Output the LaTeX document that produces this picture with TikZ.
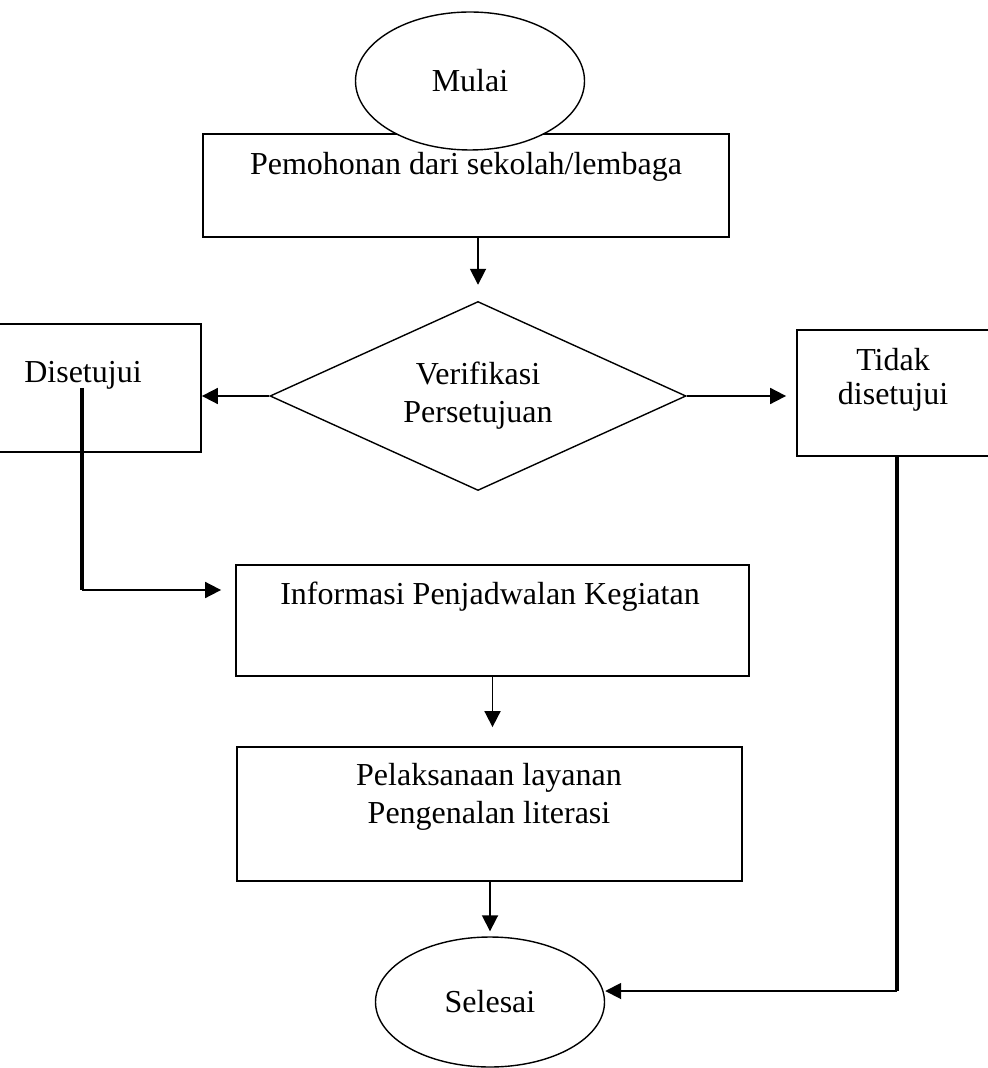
\documentclass[tikz,border=0pt]{standalone}
\usepackage{fontspec}
\setmainfont{Liberation Serif}
\usetikzlibrary{shapes.geometric,arrows.meta}

\begin{document}
\begin{tikzpicture}[x=0.5pt,y=-0.5pt,font=\fontsize{16}{19}\selectfont,
  kotak/.style={rectangle, draw=black, line width=0.9pt, inner sep=0pt},
  bulat/.style={ellipse, draw=black, line width=0.7pt, fill=white, inner sep=0pt},
  teks/.style={align=center, inner sep=0pt},
  panah/.style={-{Triangle[length=8pt,width=8pt]}, line width=0.9pt},
  garis/.style={line width=2pt}]
\useasboundingbox (0,0) rectangle (987,1068);

\node[kotak, minimum width=263pt, minimum height=51.5pt] (pemohonan) at (466,185.5) {};
\node[teks] (pemohonanT) at (466,167) {Pemohonan dari sekolah/lembaga};
\node[bulat, minimum width=114.5pt, minimum height=69pt] (mulai) at (470,81) {Mulai};

\node[diamond, draw=black, line width=0.7pt, aspect=2.2, inner sep=0pt, align=center,
  minimum width=208pt, minimum height=94.5pt] (verif) at (478,396) {Verifikasi\\Persetujuan};

\node[kotak, minimum width=119pt, minimum height=64pt] (setuju) at (82,388) {};
\node[teks] (setujuT) at (83,375) {Disetujui};
\node[kotak, minimum width=120pt, minimum height=63pt] (tidak) at (917,393) {};
\node[teks, font=\fontsize{16}{17}\selectfont] (tidakT) at (893,380) {Tidak\\disetujui};

\node[kotak, minimum width=256.5pt, minimum height=55.5pt] (info) at (492.5,620.5) {};
\node[teks] (infoT) at (490,597) {Informasi Penjadwalan Kegiatan};
\node[kotak, minimum width=252.5pt, minimum height=67pt] (laksana) at (489.5,814) {};
\node[teks] (laksanaT) at (489,797) {Pelaksanaan layanan\\Pengenalan literasi};
\node[bulat, minimum width=114.5pt, minimum height=65pt] (selesai) at (490,1002) {Selesai};

\coordinate (belok1) at (82,590);
\coordinate (belok2) at (897,991);

\draw[panah, shorten >=8pt] (pemohonan.south -| verif.north) -- (verif.north);
\draw[panah] (verif.west) -- (verif.west -| setuju.east);
\draw[panah, shorten >=5pt] (verif.east) -- (verif.east -| tidak.west);
\draw[garis] (setuju.center) -- (belok1);
\draw[panah, shorten >=7pt] (belok1) -- (belok1 -| info.west);
\draw[panah, shorten >=9.5pt] (info.south) -- (info.south |- laksana.north);
\draw[panah, shorten >=2.5pt] (laksana.south -| selesai.north) -- (selesai.north);
\draw[garis] (belok2 |- tidak.south) -- (belok2);
\draw[panah] (belok2) -- (belok2 -| selesai.east);
\end{tikzpicture}
\end{document}
